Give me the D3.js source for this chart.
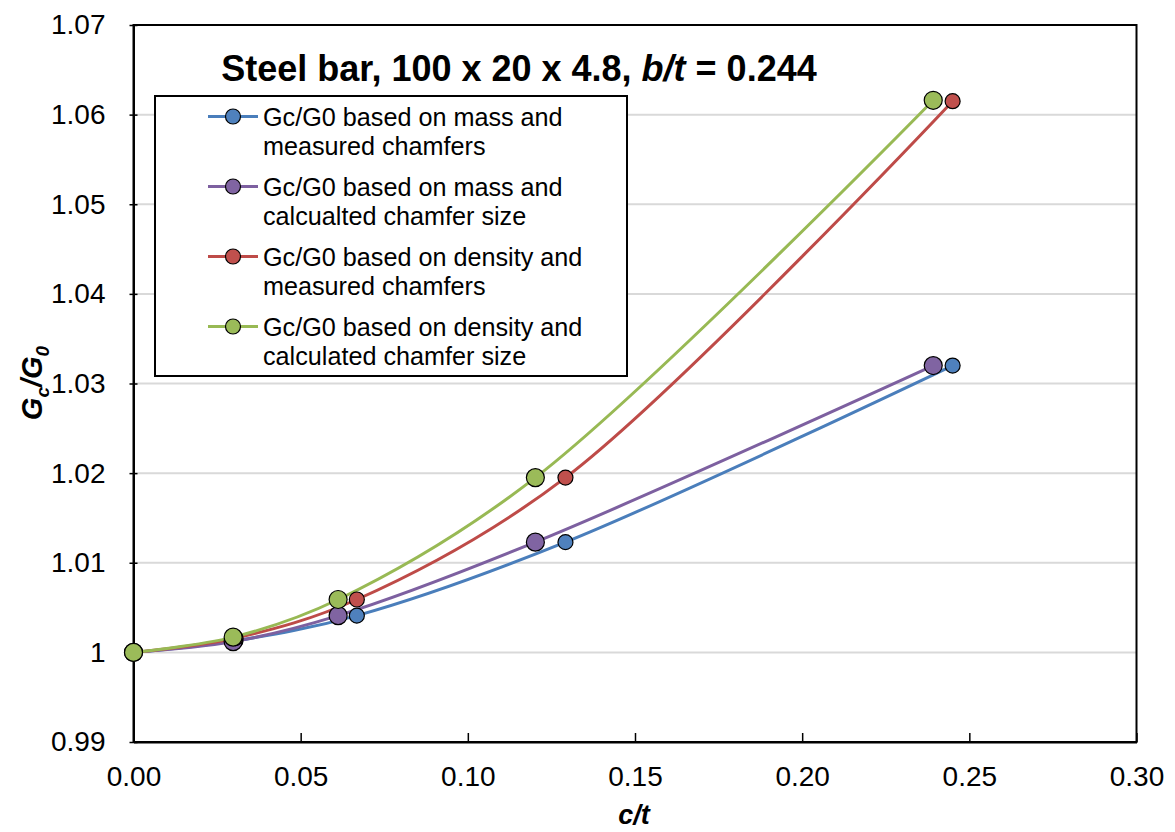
<!DOCTYPE html>
<html><head><meta charset="utf-8">
<script src="https://cdn.jsdelivr.net/npm/d3@7"></script>
<style>body{margin:0;background:#fff;}svg{display:block;font-family:"Liberation Sans",Arial,sans-serif;}</style>
</head><body><svg id="c" width="1175" height="832"></svg>
<script>
const seriesNames = [
  ["Gc/G0 based on mass and", "measured chamfers"],
  ["Gc/G0 based on mass and", "calcualted chamfer size"],
  ["Gc/G0 based on density and", "measured chamfers"],
  ["Gc/G0 based on density and", "calculated chamfer size"]
];
const xMassMeasured = [0, 0.0305, 0.0668, 0.1292, 0.2450];
const yMassMeasured = [1, 1.0013, 1.0041, 1.0123, 1.0320];
const xMassCalc = [0, 0.0298, 0.0612, 0.1202, 0.2392];
const yMassCalc = [1, 1.0012, 1.0041, 1.0123, 1.0320];
const xDensMeasured = [0, 0.0305, 0.0668, 0.1292, 0.2450];
const yDensMeasured = [1, 1.0016, 1.0059, 1.0195, 1.0615];
const xDensCalc = [0, 0.0298, 0.0612, 0.1202, 0.2392];
const yDensCalc = [1, 1.0017, 1.0059, 1.0195, 1.0616];
const xTicks = [0, 0.05, 0.10, 0.15, 0.20, 0.25, 0.30];
const yTicks = [0.99, 1, 1.01, 1.02, 1.03, 1.04, 1.05, 1.06, 1.07];
const lineColors = ["#4A7EBB", "#7D60A0", "#BE4B48", "#98B954"];
const fillColors = ["#4F81BD", "#8064A2", "#C0504D", "#9BBB59"];
const markerR = [7.5, 9, 7.5, 9];

const xs = [xMassMeasured, xMassCalc, xDensMeasured, xDensCalc];
const ys = [yMassMeasured, yMassCalc, yDensMeasured, yDensCalc];
const series = xs.map((xa, i) => xa.map((x, j) => ({x, y: ys[i][j]})));

const svg = d3.select("#c");
const L = 133.5, R = 1136.5, T = 25, B = 742;
const x = d3.scaleLinear().domain([0, 0.30]).range([L, R]);
const y = d3.scaleLinear().domain([0.99, 1.07]).range([B, T]);

// gridlines
svg.append("g").selectAll("line").data(yTicks.slice(1, -1)).join("line")
  .attr("x1", L).attr("x2", R).attr("y1", d => y(d)).attr("y2", d => y(d))
  .attr("stroke", "#D9D9D9").attr("stroke-width", 2);

// plot border
svg.append("rect").attr("x", L).attr("y", T).attr("width", R - L).attr("height", B - T)
  .attr("fill", "none").attr("stroke", "#000").attr("stroke-width", 2);

// x axis
const xAxis = d3.axisBottom(x).tickValues(xTicks).tickFormat(d3.format(".2f")).tickSizeInner(-9).tickSizeOuter(0).tickPadding(24);
const gx = svg.append("g").attr("transform", `translate(0,${B})`).call(xAxis);
gx.select(".domain").attr("stroke", "#000").attr("stroke-width", 2);
gx.selectAll(".tick line").attr("stroke", "#000").attr("stroke-width", 1.5);
gx.selectAll(".tick text").attr("font-size", 28).attr("fill", "#000").attr("font-family", "Liberation Sans, Arial, sans-serif");

// y axis
const yAxis = d3.axisLeft(y).tickValues(yTicks).tickFormat(d => d3.format("")(+d.toFixed(2))).tickSizeInner(4).tickSizeOuter(0).tickPadding(24);
const gy = svg.append("g").attr("transform", `translate(${L},0)`).call(yAxis);
gy.select(".domain").attr("stroke", "#000").attr("stroke-width", 2);
gy.selectAll(".tick line").attr("stroke", "#000").attr("stroke-width", 1.5).attr("x2", 4).attr("x1", -4);
gy.selectAll(".tick text").attr("font-size", 28).attr("fill", "#000").attr("font-family", "Liberation Sans, Arial, sans-serif");

// lines
const line = d3.line().x(d => x(d.x)).y(d => y(d.y)).curve(d3.curveCatmullRom.alpha(0.5));
series.forEach((s, i) => {
  svg.append("path").datum(s).attr("d", line).attr("fill", "none")
    .attr("stroke", lineColors[i]).attr("stroke-width", 3);
});
series.forEach((s, i) => {
  svg.append("g").selectAll("circle").data(s).join("circle")
    .attr("cx", d => x(d.x)).attr("cy", d => y(d.y)).attr("r", markerR[i])
    .attr("fill", fillColors[i]).attr("stroke", "#000").attr("stroke-width", 1.2);
});

// title
const title = svg.append("text").attr("x", 519).attr("y", 81).attr("text-anchor", "middle")
  .attr("font-size", 36).attr("font-weight", "bold").attr("fill", "#000");
title.append("tspan").text("Steel bar, 100 x 20 x 4.8, ");
title.append("tspan").attr("font-style", "italic").text("b/t");
title.append("tspan").text(" = 0.244");

// legend
const lg = svg.append("g");
lg.append("rect").attr("x", 155).attr("y", 96).attr("width", 472).attr("height", 280)
  .attr("fill", "#fff").attr("stroke", "#000").attr("stroke-width", 2);
seriesNames.forEach((nm, i) => {
  const cy = 116.5 + i * 70;
  lg.append("line").attr("x1", 208).attr("x2", 258).attr("y1", cy).attr("y2", cy)
    .attr("stroke", lineColors[i]).attr("stroke-width", 3);
  lg.append("circle").attr("cx", 233).attr("cy", cy).attr("r", 7.5)
    .attr("fill", fillColors[i]).attr("stroke", "#000").attr("stroke-width", 1.2);
  nm.forEach((t, k) => {
    lg.append("text").attr("x", 263).attr("y", cy + 9 + k * 29).attr("font-size", 25.2)
      .attr("fill", "#000").text(t);
  });
});

// y label
const yl = svg.append("text").attr("transform", "translate(42,383) rotate(-90)").attr("text-anchor", "middle")
  .attr("font-size", 29).attr("font-weight", "bold").attr("font-style", "italic").attr("fill", "#000");
yl.append("tspan").text("G");
yl.append("tspan").attr("font-size", 19).attr("dy", 7).text("c");
yl.append("tspan").attr("dy", -7).text("/G");
yl.append("tspan").attr("font-size", 19).attr("dy", 7).text("0");

// x label
svg.append("text").attr("x", 634).attr("y", 824).attr("text-anchor", "middle")
  .attr("font-size", 27).attr("font-weight", "bold").attr("font-style", "italic").attr("fill", "#000").text("c/t");
</script></body></html>
